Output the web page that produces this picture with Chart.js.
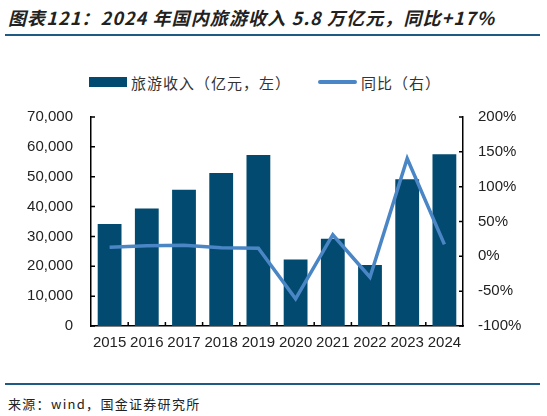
<!DOCTYPE html>
<html><head><meta charset="utf-8">
<script src="https://cdn.jsdelivr.net/npm/chart.js@4.4.1/dist/chart.umd.min.js"></script>
<style>
html,body{margin:0;padding:0;background:#fff;}
body{width:547px;height:416px;position:relative;overflow:hidden;font-family:"Liberation Sans",Arial,sans-serif;}
#title{position:absolute;left:8px;top:4px;font-family:"Noto Sans CJK SC",sans-serif;font-size:18px;font-style:italic;font-weight:bold;color:#222;white-space:nowrap;letter-spacing:1.1px;}
#tline{position:absolute;left:5px;top:34px;width:535px;height:2px;background:#1f5a85;}
#bline{position:absolute;left:5px;top:383px;width:535px;height:2px;background:#1f5a85;}
#src{position:absolute;left:8px;top:394px;font-family:"Noto Sans CJK SC",sans-serif;font-size:13px;color:#222;white-space:nowrap;letter-spacing:1.3px;}
.lg{position:absolute;top:72px;font-family:"Noto Sans CJK SC",sans-serif;font-size:15px;color:#333;white-space:nowrap;letter-spacing:1px;}
#sw1{position:absolute;left:89px;top:77px;width:38px;height:10px;background:#024a6f;}
#sw2{position:absolute;left:318px;top:80px;width:39px;height:4px;background:#4a86c5;border-radius:2px;}
#wrap{position:absolute;left:0;top:90px;width:547px;height:270px;}
canvas{display:block;}
</style></head>
<body>
<div id="title">图表121：2024 年国内旅游收入 5.8 万亿元，同比+17%</div>
<div id="tline"></div>
<div id="sw1"></div><div class="lg" style="left:131px;">旅游收入（亿元，左）</div>
<div id="sw2"></div><div class="lg" style="left:361px;">同比（右）</div>
<div id="wrap"><canvas id="c" width="547" height="270" style="width:547px;height:270px;"></canvas></div>
<div id="bline"></div>
<div id="src">来源：wind，国金证券研究所</div>
<script>
const categories = ["2015","2016","2017","2018","2019","2020","2021","2022","2023","2024"];
const revenue = [34195, 39390, 45661, 51278, 57251, 22286, 29191, 20444, 49133, 57500];
const yoy = [13.0, 15.2, 15.9, 12.3, 11.7, -61.1, 31.0, -30.0, 140.3, 17.1];
const seriesNames = ["旅游收入（亿元，左）", "同比（右）"];

const innerTicks = {
  id: 'innerTicks',
  afterDraw(chart) {
    const ctx = chart.ctx;
    const y = chart.scales.y, y1 = chart.scales.y1, x = chart.scales.x;
    ctx.save();
    ctx.strokeStyle = '#000';
    ctx.lineWidth = 1.5;
    ctx.beginPath();
    y.ticks.forEach(t => { const p = y.getPixelForValue(t.value); ctx.moveTo(y.right, p); ctx.lineTo(y.right + 4, p); });
    y1.ticks.forEach(t => { const p = y1.getPixelForValue(t.value); ctx.moveTo(y1.left, p); ctx.lineTo(y1.left - 4, p); });
    for (let i = 1; i < categories.length; i++) {
      const p = (x.getPixelForValue(i - 1) + x.getPixelForValue(i)) / 2;
      ctx.moveTo(p, x.top); ctx.lineTo(p, x.top - 4);
    }
    ctx.stroke();
    ctx.restore();
  }
};

new Chart(document.getElementById('c'), {
  data: {
    labels: categories,
    datasets: [
      { type: 'line', label: seriesNames[1], data: yoy, yAxisID: 'y1', borderColor: '#4a86c5', backgroundColor: '#4a86c5', borderWidth: 3.5, pointRadius: 0, tension: 0, order: 0 },
      { type: 'bar', label: seriesNames[0], data: revenue, yAxisID: 'y', backgroundColor: '#024a6f', categoryPercentage: 1, barPercentage: 0.64, order: 1 }
    ]
  },
  options: {
    responsive: false, animation: false, maintainAspectRatio: false,
    layout: { autoPadding: false, padding: { top: 17, left: 0, right: 0, bottom: 0 } },
    plugins: { legend: { display: false }, tooltip: { enabled: false } },
    scales: {
      x: {
        grid: { display: false, drawTicks: false },
        border: { display: true, color: '#000', width: 1.5 },
        ticks: { color: '#222', font: { family: 'Liberation Sans', size: 15 }, padding: 8, maxRotation: 0, autoSkip: false },
        afterFit(s) { s.height = 34; }
      },
      y: {
        position: 'left', min: 0, max: 70000,
        ticks: { stepSize: 10000, color: '#222', font: { family: 'Liberation Sans', size: 15 }, padding: 18,
          callback: v => v.toLocaleString('en-US') },
        grid: { display: false, drawTicks: false },
        border: { display: true, color: '#000', width: 1.5 },
        afterFit(s) { s.width = 91; }
      },
      y1: {
        position: 'right', min: -100, max: 200,
        ticks: { stepSize: 50, color: '#222', font: { family: 'Liberation Sans', size: 15 }, padding: 15,
          callback: v => v + '%' },
        grid: { display: false, drawTicks: false },
        border: { display: true, color: '#000', width: 1.5 },
        afterFit(s) { s.width = 84; }
      }
    }
  },
  plugins: [innerTicks]
});
</script>
</body></html>
